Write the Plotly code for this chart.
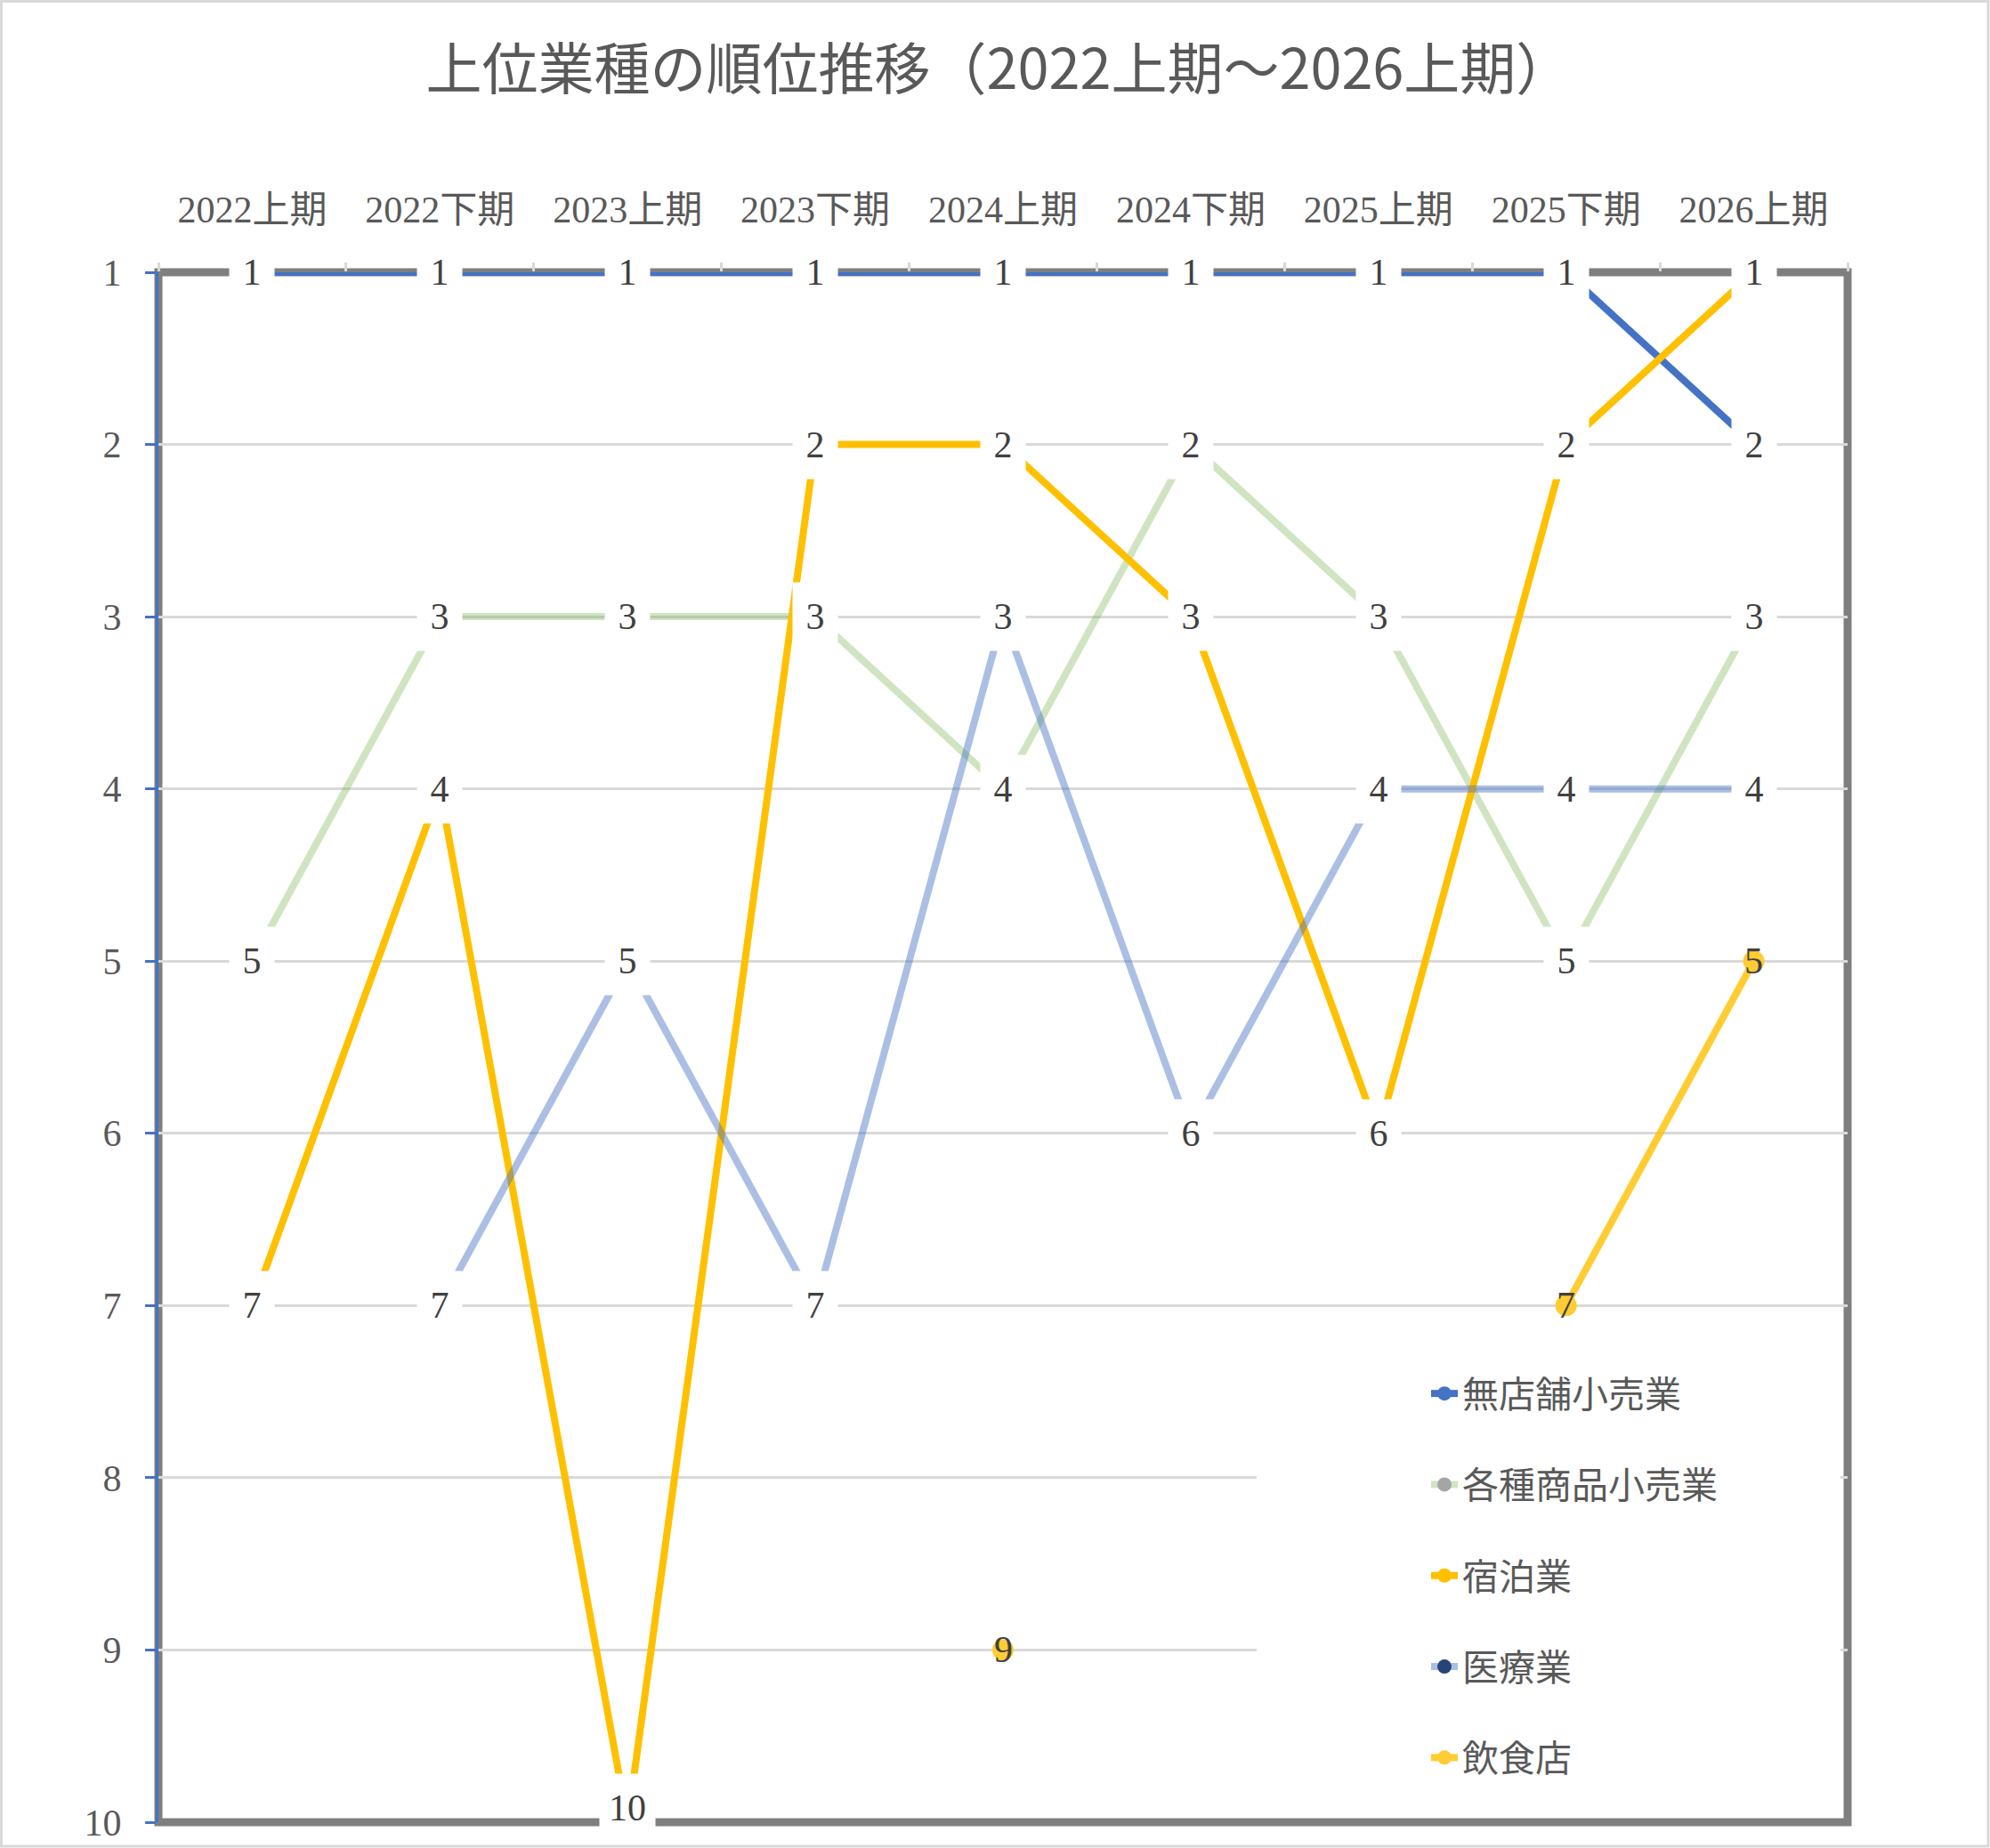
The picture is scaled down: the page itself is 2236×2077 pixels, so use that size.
import plotly.graph_objects as go

# 期間（横軸カテゴリ）
periods = ["2022上期", "2022下期", "2023上期", "2023下期", "2024上期",
           "2024下期", "2025上期", "2025下期", "2026上期"]

# 業種名
industries = ["無店舗小売業", "各種商品小売業", "宿泊業", "医療業", "飲食店"]

# 各業種の順位（None は圏外）
rank_mutenpo = [1, 1, 1, 1, 1, 1, 1, 1, 2]
rank_kakushu = [5, 3, 3, 3, 4, 2, 3, 5, 3]
rank_shukuhaku = [7, 4, 10, 2, 2, 3, 6, 2, 1]
rank_iryo = [None, 7, 5, 7, 3, 6, 4, 4, 4]
rank_inshoku = [None, None, None, None, 9, None, None, 7, 5]

ranks = [rank_mutenpo, rank_kakushu, rank_shukuhaku, rank_iryo, rank_inshoku]

# 線の色 / マーカーの色
line_colors = ["#4472C4", "rgba(112,173,71,0.33)", "#FFC000",
               "rgba(68,114,196,0.45)", "rgba(255,192,0,0.8)"]
marker_colors = ["#4472C4", "#A5A5A5", "#FFC000", "#264478", "#FFCC33"]

# ラベルに白い背景を付けるかどうか
label_bg = [True, True, True, True, False]

SERIF = "Liberation Serif, Noto Sans CJK JP, serif"
SANS = "Noto Sans CJK JP, Noto Sans, sans-serif"

# プロット領域（ピクセル）
W, H = 2236, 2077
L, R, T, B = 178, 160, 306, 29
pw = W - L - R
ph = H - T - B

fig = go.Figure()

for i, name in enumerate(industries):
    fig.add_trace(go.Scatter(
        x=periods, y=ranks[i], name=name,
        mode="lines+markers",
        line=dict(color=line_colors[i], width=8),
        marker=dict(color=marker_colors[i], size=24),
        connectgaps=False,
        legendgroup=name,
        hoverinfo="skip",
    ))

# データラベル（白背景の箱で線を隠す）
annotations = []
for i, name in enumerate(industries):
    for p, v in zip(periods, ranks[i]):
        if v is None:
            continue
        txt = str(v)
        ann = dict(
            x=p, y=v, xref="x", yref="y", text=txt, showarrow=False,
            font=dict(family=SERIF, size=42, color="#404040"),
            xanchor="center", yanchor="middle",
        )
        if label_bg[i]:
            ann.update(bgcolor="white", width=50 if len(txt) == 1 else 62,
                       height=76, borderpad=0)
            if v == 10:
                ann["yshift"] = 16
        annotations.append(ann)

shapes = [
    # プロット領域の枠
    dict(type="rect", xref="x domain", yref="y domain",
         x0=0, x1=1, y0=0, y1=1,
         line=dict(color="#7F7F7F", width=9), layer="below"),
    # 凡例の背景（目盛線を隠す）
    dict(type="rect", xref="paper", yref="paper",
         x0=(1412 - L) / pw, x1=(2068 - L) / pw,
         y0=0.005, y1=(H - B - 1495) / ph,
         fillcolor="white", line=dict(width=0), layer="above"),
    # グラフ全体の枠
    dict(type="rect", xref="paper", yref="paper",
         x0=(1.5 - L) / pw, x1=(W - 2 - L) / pw,
         y0=-(B - 2) / ph, y1=(H - B - 1.5) / ph,
         line=dict(color="#D9D9D9", width=3), layer="below"),
]

fig.update_layout(
    width=W, height=H,
    margin=dict(l=L, r=R, t=T, b=B),
    paper_bgcolor="white", plot_bgcolor="white",
    title=dict(text="上位業種の順位推移（2022上期～2026上期）",
               x=0.502, xanchor="center", y=1 - 78 / H, yanchor="middle",
               font=dict(family=SANS, size=63, color="#595959")),
    xaxis=dict(type="category", side="top", range=[-0.5, 8.5],
               showgrid=False, showline=False, zeroline=False,
               automargin=False,
               ticks="outside", tickson="boundaries", ticklen=10, tickwidth=3,
               tickcolor="#D9D9D9", ticklabelstandoff=47,
               tickfont=dict(family=SERIF, size=42, color="#595959")),
    yaxis=dict(range=[10, 1], dtick=1, tick0=1,
               showgrid=True, gridcolor="#D9D9D9", gridwidth=3,
               zeroline=False, showline=True, linecolor="#4472C4", linewidth=3,
               automargin=False,
               ticks="outside", ticklen=12, tickwidth=3, tickcolor="#4472C4",
               ticklabelstandoff=18,
               tickfont=dict(family=SERIF, size=42, color="#595959")),
    legend=dict(x=(1603 - L) / pw, xanchor="left",
                y=(H - B - 1533) / ph, yanchor="top",
                bgcolor="white", borderwidth=0,
                traceorder="grouped", tracegroupgap=46,
                font=dict(family=SANS, size=41, color="#595959")),
    shapes=shapes,
    annotations=annotations,
)

fig.write_html("out.html", config={"displayModeBar": False},
               post_script="document.body.style.margin='0';")
